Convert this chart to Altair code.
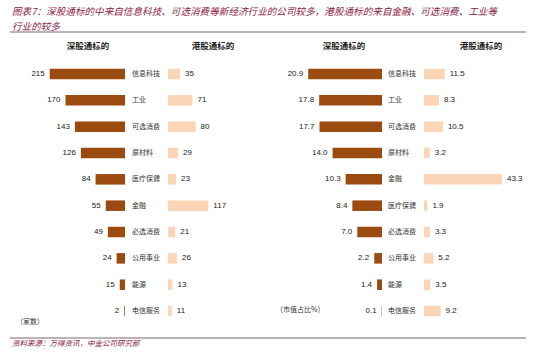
import altair as alt
import pandas as pd

industries = ["信息科技", "工业", "可选消费", "原材料", "医疗保健", "金融", "必选消费", "公用事业", "能源", "电信服务"]
sz_count = [215, 170, 143, 126, 84, 55, 49, 24, 15, 2]
hk_count = [35, 71, 80, 29, 23, 117, 21, 26, 13, 11]

industries_r = ["信息科技", "工业", "可选消费", "原材料", "金融", "医疗保健", "必选消费", "公用事业", "能源", "电信服务"]
sz_cap = [20.9, 17.8, 17.7, 14.0, 10.3, 8.4, 7.0, 2.2, 1.4, 0.1]
hk_cap = [11.5, 8.3, 10.5, 3.2, 43.3, 1.9, 3.3, 5.2, 3.5, 9.2]

title_1 = "图表7：深股通标的中来自信息科技、可选消费等新经济行业的公司较多，港股通标的来自金融、可选消费、工业等"
title_2 = "行业的较多"
source = "资料来源：万得资讯，中金公司研究部"
head_sz = "深股通标的"
head_hk = "港股通标的"
unit_l = "（家数）"
unit_r = "（市值占比%）"

DARK = "#9C4B10"
LIGHT = "#FBD5B6"
CJK = "Noto Sans CJK SC"
NUM = "Liberation Sans"

left = pd.DataFrame({"ind": industries, "sz": sz_count, "hk": hk_count, "row": list(range(10))})
right = pd.DataFrame({"ind": industries_r, "sz": sz_cap, "hk": hk_cap, "row": list(range(10))})

yenc = alt.Y("row:O", axis=None,
             scale=alt.Scale(domain=list(range(10)), range=[60.8, 324.2], paddingInner=0.6, paddingOuter=0.3))


def half(df, field, rng, color, side):
    sc = alt.Scale(domain=[0, max(df[field])], range=rng, nice=False)
    base = alt.Chart(df)
    bars = base.mark_bar(color=color).encode(x=alt.X(f"{field}:Q", axis=None, scale=sc),
                                             x2=alt.datum(0), y=yenc)
    fmt = ".0f" if df[field].dtype.kind == "i" else ".1f"
    txt = base.mark_text(font=NUM, fontSize=8, color="#222",
                         align="right" if side == "l" else "left",
                         dx=-5 if side == "l" else 5).encode(
        x=alt.X(f"{field}:Q", axis=None, scale=sc),
        y=yenc, text=alt.Text(f"{field}:Q", format=fmt))
    return alt.layer(bars, txt).resolve_scale(x="shared")


def cats(df, xpos):
    return alt.Chart(df).mark_text(font=CJK, fontSize=7, color="#333", align="left").encode(
        x=alt.value(xpos), y=yenc, text="ind:N")


def note(text, x, y, size, color="#333", weight="normal", style="normal", align="left", font=CJK):
    return alt.Chart(pd.DataFrame({"t": [text]})).mark_text(
        font=font, fontSize=size, color=color, fontWeight=weight, fontStyle=style, align=align, baseline="middle"
    ).encode(x=alt.value(x), y=alt.value(y), text="t:N")


def hline(y):
    return alt.Chart(pd.DataFrame({"a": [0]})).mark_rule(color="#A59A9D", strokeWidth=1.5).encode(
        x=alt.value(10), x2=alt.value(526), y=alt.value(y))


layers = [
    half(left, "sz", [125, 125 - 215 * 0.35], DARK, "l"),
    half(left, "hk", [168, 168 + 117 * 0.345], LIGHT, "r"),
    half(right, "sz", [382, 382 - 20.9 * 3.53], DARK, "l"),
    half(right, "hk", [424, 424 + 43.3 * 1.8], LIGHT, "r"),
    cats(left, 132),
    cats(right, 388),
    note(title_1, 12, 12, 9.6, color="#8B2345", style="italic"),
    note(title_2, 12, 27, 9.6, color="#8B2345", style="italic"),
    hline(32),
    hline(338),
    note(head_sz, 88, 46, 8.5, color="#222", weight="bold", align="center"),
    note(head_hk, 213, 46, 8.5, color="#222", weight="bold", align="center"),
    note(head_sz, 344, 46, 8.5, color="#222", weight="bold", align="center"),
    note(head_hk, 481, 46, 8.5, color="#222", weight="bold", align="center"),
    note(unit_l, 16, 322, 7),
    note(unit_r, 276, 310, 7),
    note(source, 12, 344, 7.5, color="#8B2345", style="italic"),
]

chart = alt.layer(*layers).resolve_scale(x="independent").properties(
    width=550, height=355, padding=0, autosize="none"
).configure_view(stroke=None)

chart.save("out.html", embed_options={"renderer": "svg", "actions": False})
